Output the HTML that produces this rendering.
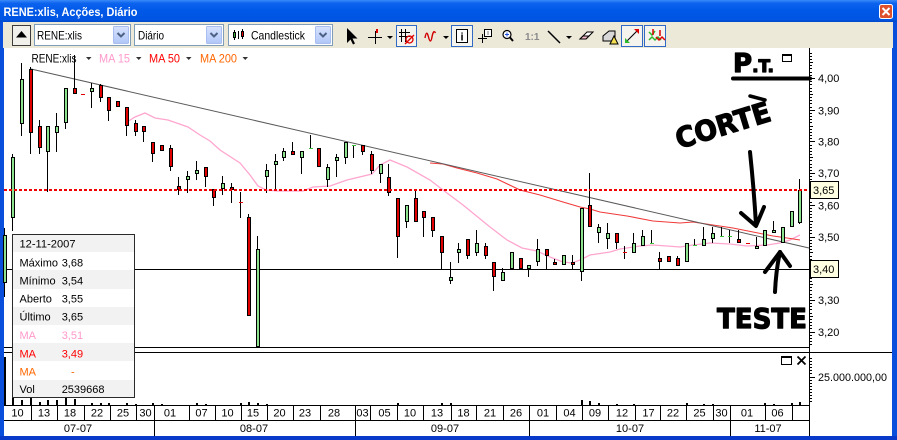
<!DOCTYPE html>
<html><head><meta charset="utf-8"><style>
html,body{margin:0;padding:0;background:#fff;overflow:hidden}
svg{display:block}
text{font-family:"Liberation Sans",Arial,sans-serif}
.hw{font-family:"DejaVu Sans","Liberation Sans",sans-serif;font-weight:bold;fill:#000;stroke:#000;stroke-width:1.2;stroke-linejoin:round}
</style></head><body>
<svg width="897" height="440" viewBox="0 0 897 440" xmlns="http://www.w3.org/2000/svg">
<defs>
<linearGradient id="tb" x1="0" y1="0" x2="0" y2="1">
<stop offset="0" stop-color="#3A8AF8"/><stop offset="0.15" stop-color="#0C63EE"/><stop offset="0.5" stop-color="#0058E8"/><stop offset="0.9" stop-color="#0055E2"/><stop offset="1" stop-color="#0046C6"/>
</linearGradient>
<linearGradient id="btn" x1="0" y1="0" x2="0" y2="1"><stop offset="0" stop-color="#D6E2FD"/><stop offset="1" stop-color="#B2C7F8"/></linearGradient>
</defs>
<!-- window frame -->
<rect width="897" height="440" fill="#0A4FDB"/>
<rect width="897" height="22" fill="url(#tb)"/>
<rect x="0" y="436" width="897" height="4" fill="#0839C8"/>
<rect x="3" y="22" width="890" height="26" fill="#ECE9D8"/>
<rect x="4" y="48" width="888" height="388" fill="#fff"/>
<text x="3.5" y="16" font-size="12" font-weight="bold" fill="#fff" textLength="134" lengthAdjust="spacingAndGlyphs">RENE:xlis, Acções, Diário</text>
<rect x="879.5" y="4.5" width="13" height="14" rx="2" fill="#DE4F2C" stroke="#fff"/>
<path d="M882.5 8L889.5 15M889.5 8L882.5 15" stroke="#fff" stroke-width="2"/>

<!-- toolbar -->
<rect x="12.5" y="25.5" width="18" height="20" fill="#F1F0EA" stroke="#3C3C3C"/>
<polygon points="16,37.5 27,37.5 21.5,31" fill="#000"/>
<rect x="34.5" y="24.5" width="96" height="21" fill="#fff" stroke="#7F9DB9"/>
<rect x="113.5" y="26.5" width="15" height="17" rx="1" fill="url(#btn)" stroke="#A9BEF0"/>
<path d="M117.5 33l3.5 3.5 3.5-3.5" stroke="#4D6185" stroke-width="2" fill="none"/>
<text x="37" y="39.5" font-size="12" textLength="45" lengthAdjust="spacingAndGlyphs">RENE:xlis</text>
<rect x="134.5" y="24.5" width="89" height="21" fill="#fff" stroke="#7F9DB9"/>
<rect x="206.5" y="26.5" width="15" height="17" rx="1" fill="url(#btn)" stroke="#A9BEF0"/>
<path d="M210.5 33l3.5 3.5 3.5-3.5" stroke="#4D6185" stroke-width="2" fill="none"/>
<text x="138" y="39.5" font-size="12" textLength="26" lengthAdjust="spacingAndGlyphs">Diário</text>
<rect x="228.5" y="24.5" width="104" height="21" fill="#fff" stroke="#7F9DB9"/>
<rect x="315.5" y="26.5" width="15" height="17" rx="1" fill="url(#btn)" stroke="#A9BEF0"/>
<path d="M319.5 33l3.5 3.5 3.5-3.5" stroke="#4D6185" stroke-width="2" fill="none"/>
<path d="M234.5 30V40M238.5 31V39M242.5 29V39" stroke="#000"/>
<rect x="233.5" y="32.5" width="2" height="5" fill="#3BB33B" stroke="#000"/>
<rect x="241.5" y="31.5" width="2" height="5" fill="#E00000" stroke="#000"/>
<text x="251" y="39.5" font-size="12" textLength="54" lengthAdjust="spacingAndGlyphs">Candlestick</text>
<polygon points="347,28 347,43 350.5,39.5 353,44.5 355,43.5 352.5,38.5 357.5,38.5" fill="#000"/>
<path d="M375.5 31V44M368 37.5H382" stroke="#000"/>
<rect x="376" y="29" width="2" height="4" fill="#E00000"/>
<polygon points="387,36 393,36 390,39" fill="#000"/>
<rect x="396.5" y="25.5" width="20" height="21" fill="#F4F3EE" stroke="#316AC5"/>
<path d="M401.5 29V42M405.5 29V42M399 32.5H410M399 36.5H410" stroke="#000"/>
<circle cx="409.5" cy="39.5" r="3.5" fill="none" stroke="#E00000" stroke-width="1.3"/>
<path d="M405 44L414 35" stroke="#E00000" stroke-width="1.3"/>
<path d="M425 38q1.5-9 3.5-1t3.5 0 3.5-4" stroke="#D00000" stroke-width="1.4" fill="none"/>
<polygon points="443,36 449,36 446,39" fill="#000"/>
<rect x="451.5" y="25.5" width="21" height="21" fill="#F4F3EE" stroke="#316AC5"/>
<rect x="456.5" y="29.5" width="11" height="13" fill="#fff" stroke="#000"/>
<text x="462" y="40.5" font-size="11" font-weight="bold" text-anchor="middle">i</text>
<path d="M478 38.5H487M482.5 34V43" stroke="#000"/>
<rect x="484.5" y="29.5" width="7" height="7" fill="#fff" stroke="#000"/>
<path d="M488 31.5v1M488 33.5v1" stroke="#000"/>
<circle cx="507" cy="34.5" r="4" fill="#fff" stroke="#000" stroke-width="1.2"/>
<path d="M505 34.5h4M507 32.5v4" stroke="#2050E0"/>
<path d="M510 37.5l3 3.5" stroke="#000" stroke-width="2"/>
<text x="525" y="40" font-size="10" font-weight="bold" fill="#8A8A8A">1:1</text>
<path d="M548 31L560 43" stroke="#000" stroke-width="1.5"/>
<polygon points="566,36 572,36 569,39" fill="#000"/>
<polygon points="580,39 587,32 593,32 586,39" fill="#fff" stroke="#000"/>
<polygon points="580,39 583,36 589,36 586,39" fill="#F4B8C8" stroke="#000"/>
<path d="M603 41V36L609 31H615V41Z" fill="#D8D8D8" stroke="#000"/>
<polygon points="610,44 614,36 618,44" fill="#F6E050" stroke="#000"/>
<rect x="621.5" y="25.5" width="21" height="21" fill="#F4F3EE" stroke="#316AC5"/>
<path d="M627 41L638 30" stroke="#000"/>
<polygon points="634,29 639,29 639,34" fill="#E00000"/>
<polygon points="625,38 625,43 630,43" fill="#2DB82D"/>
<rect x="644.5" y="25.5" width="21" height="21" fill="#F4F3EE" stroke="#316AC5"/>
<path d="M649 32l3 3 3-4M649 40l3-3 3 3 3-3 3 3" stroke="#2DB82D" stroke-width="1.5" fill="none"/>
<path d="M656 37l3 3 3-3 3 3" stroke="#E00000" stroke-width="1.5" fill="none"/>
<path d="M653 29v6M660 30v6" stroke="#E00000" stroke-width="1.5"/>

<!-- chart lines -->
<path d="M4 269.5H809" stroke="#000"/>
<path d="M4 347.5H809M4 352.5H892M4 405.5H809M4 420.5H809M809.5 48V436" stroke="#000"/>
<polyline points="127,122 135,117 145,113 155,118 168,120 188,127 200,135 210,141 220,150 240,163 250,175 258,186 266,190 277,191 303,191 313,187 330,186 347,180 372,174 380,165 390,160 407,167 430,180 443,190 463,205 490,227 507,240 522,248 537,251 550,257 563,262 572,263 580,260 590,255 610,252 620,249 640,246 653,245 667,246 680,247 693,245 710,243 730,244 747,246 767,245 780,243 790,240 800,235" fill="none" stroke="#FFA6CF" stroke-width="1.3"/>
<polyline points="430,163 443,164 457,168 477,173 497,179 520,190 540,195 563,202 580,207 590,209 600,212 627,216 653,221 680,223 693,222 713,225 733,228 753,232 773,236 787,238 800,240" fill="none" stroke="#F03A3A" stroke-width="1.1"/>
<path d="M31 69L809 248" stroke="#5A5A5A" stroke-width="1"/>

<!-- wicks -->
<path stroke="#000" fill="none" d="M4.5 228V297M12.5 154V231M21.5 63V136M30.5 67V154M39.5 120V154M47.5 126V192M56.5 113V152M65.5 88V129M74.5 55V94M91.5 83V108M100.5 84V102M108.5 97V121M126.5 107V136M135.5 120V136M143.5 126V142M152.5 142V162M170.5 145V171M178.5 177V195M187.5 171V193M196.5 161V180M205.5 167V187M213.5 189V206M222.5 176V195M231.5 183V203M240.5 192V218M248.5 214V316M257.5 236V347M266.5 164V193M275.5 154V189M283.5 148V161M292.5 142V154M301.5 151V174M310.5 135V148M327.5 164V187M336.5 154V177M345.5 142V164M353.5 145V158M362.5 145V155M371.5 151V174M380.5 164V183M388.5 164V196M397.5 198V258M406.5 205V228M415.5 189V222M423.5 211V237M432.5 217V237M441.5 236V269M450.5 262V284M458.5 243V263M467.5 239V259M476.5 230V256M485.5 243V259M493.5 262V291M502.5 268V281M528.5 265V277M537.5 239V266M546.5 249V269M554.5 259V265M572.5 255V269M581.5 208V281M589.5 173V227M598.5 224V243M607.5 223V249M616.5 233V249M624.5 246V259M633.5 233V253M642.5 230V246M651.5 230V243M659.5 252V269M677.5 256V266M694.5 239V246M703.5 227V246M712.5 227V243M721.5 227V236M729.5 230V243M738.5 230V243M756.5 237V249M773.5 221V233M799.5 179V224"/>

<!-- green bodies -->
<g fill="#8DE38D" stroke="#000">
<rect x="3.5" y="235.5" width="3" height="47"/>
<rect x="11.5" y="157.5" width="3" height="60"/>
<rect x="20.5" y="79.5" width="3" height="44"/>
<rect x="46.5" y="126.5" width="3" height="25"/>
<rect x="55.5" y="126.5" width="3" height="6"/>
<rect x="64.5" y="88.5" width="3" height="34"/>
<rect x="90.5" y="88.5" width="3" height="3"/>
<rect x="186.5" y="176.5" width="3" height="3"/>
<rect x="195.5" y="170.5" width="3" height="3"/>
<rect x="221.5" y="183.5" width="3" height="5"/>
<rect x="256.5" y="249.5" width="3" height="97"/>
<rect x="265.5" y="170.5" width="3" height="6"/>
<rect x="274.5" y="161.5" width="3" height="3"/>
<rect x="282.5" y="151.5" width="3" height="6"/>
<rect x="300.5" y="151.5" width="3" height="6"/>
<rect x="326.5" y="167.5" width="3" height="12"/>
<rect x="335.5" y="157.5" width="3" height="3"/>
<rect x="344.5" y="142.5" width="3" height="15"/>
<rect x="379.5" y="164.5" width="3" height="9"/>
<rect x="405.5" y="205.5" width="3" height="16"/>
<rect x="449.5" y="277.5" width="3" height="3"/>
<rect x="457.5" y="249.5" width="3" height="3"/>
<rect x="475.5" y="243.5" width="3" height="9"/>
<rect x="501.5" y="272.5" width="3" height="8"/>
<rect x="510.5" y="252.5" width="3" height="16"/>
<rect x="527.5" y="265.5" width="3" height="3"/>
<rect x="536.5" y="249.5" width="3" height="12"/>
<rect x="562.5" y="255.5" width="3" height="9"/>
<rect x="580.5" y="208.5" width="3" height="63"/>
<rect x="597.5" y="227.5" width="3" height="5"/>
<rect x="606.5" y="233.5" width="3" height="5"/>
<rect x="632.5" y="243.5" width="3" height="9"/>
<rect x="641.5" y="236.5" width="3" height="9"/>
<rect x="685.5" y="243.5" width="3" height="18"/>
<rect x="702.5" y="239.5" width="3" height="6"/>
<rect x="711.5" y="233.5" width="3" height="5"/>
<rect x="755.5" y="246.5" width="3" height="2"/>
<rect x="763.5" y="230.5" width="3" height="15"/>
<rect x="772.5" y="230.5" width="3" height="2"/>
<rect x="781.5" y="227.5" width="3" height="15"/>
<rect x="790.5" y="211.5" width="3" height="15"/>
<rect x="798.5" y="190.5" width="3" height="32"/>
</g>
<!-- red bodies -->
<g fill="#E00000" stroke="#000">
<rect x="29.5" y="69.5" width="3" height="63"/>
<rect x="38.5" y="126.5" width="3" height="21"/>
<rect x="73.5" y="88.5" width="3" height="5"/>
<rect x="99.5" y="85.5" width="3" height="12"/>
<rect x="107.5" y="97.5" width="3" height="13"/>
<rect x="116.5" y="101.5" width="3" height="5"/>
<rect x="125.5" y="107.5" width="3" height="18"/>
<rect x="134.5" y="123.5" width="3" height="8"/>
<rect x="142.5" y="126.5" width="3" height="5"/>
<rect x="151.5" y="142.5" width="3" height="11"/>
<rect x="160.5" y="145.5" width="3" height="5"/>
<rect x="169.5" y="148.5" width="3" height="18"/>
<rect x="177.5" y="186.5" width="3" height="3"/>
<rect x="204.5" y="167.5" width="3" height="9"/>
<rect x="212.5" y="189.5" width="3" height="8"/>
<rect x="230.5" y="187.5" width="3" height="2"/>
<rect x="247.5" y="217.5" width="3" height="98"/>
<rect x="291.5" y="151.5" width="3" height="3"/>
<rect x="317.5" y="148.5" width="3" height="18"/>
<rect x="361.5" y="145.5" width="3" height="6"/>
<rect x="370.5" y="154.5" width="3" height="16"/>
<rect x="387.5" y="177.5" width="3" height="15"/>
<rect x="396.5" y="198.5" width="3" height="38"/>
<rect x="414.5" y="198.5" width="3" height="23"/>
<rect x="422.5" y="211.5" width="3" height="6"/>
<rect x="431.5" y="217.5" width="3" height="13"/>
<rect x="440.5" y="236.5" width="3" height="16"/>
<rect x="466.5" y="239.5" width="3" height="16"/>
<rect x="484.5" y="246.5" width="3" height="9"/>
<rect x="492.5" y="262.5" width="3" height="14"/>
<rect x="519.5" y="258.5" width="3" height="10"/>
<rect x="545.5" y="249.5" width="3" height="6"/>
<rect x="553.5" y="262.5" width="3" height="2"/>
<rect x="571.5" y="262.5" width="3" height="2"/>
<rect x="588.5" y="205.5" width="3" height="21"/>
<rect x="615.5" y="233.5" width="3" height="9"/>
<rect x="658.5" y="258.5" width="3" height="3"/>
<rect x="667.5" y="256.5" width="3" height="5"/>
<rect x="676.5" y="258.5" width="3" height="7"/>
<rect x="737.5" y="239.5" width="3" height="3"/>
</g>
<!-- doji dashes -->
<g fill="#E00000"><rect x="81" y="94" width="4" height="1"/><rect x="239" y="202" width="4" height="1"/><rect x="623" y="252" width="4" height="1"/><rect x="746" y="243" width="4" height="1"/></g>
<g fill="#3CC23C"><rect x="309" y="148" width="4" height="1"/><rect x="352" y="145" width="4" height="1"/><rect x="650" y="243" width="4" height="1"/><rect x="693" y="245" width="4" height="1"/><rect x="720" y="236" width="4" height="1"/><rect x="728" y="236" width="4" height="1"/></g>

<!-- red dotted 3.65 -->
<path d="M4 190H809" stroke="#F00000" stroke-width="2" stroke-dasharray="3 2"/>

<!-- volume bars -->
<g fill="#000">
<rect x="4" y="357" width="2" height="48"/>
<rect x="12" y="398" width="2" height="7"/><rect x="21" y="400" width="2" height="5"/><rect x="30" y="398" width="2" height="7"/><rect x="39" y="402" width="2" height="3"/><rect x="47" y="400" width="2" height="5"/><rect x="56" y="400" width="2" height="5"/><rect x="65" y="398" width="2" height="7"/><rect x="74" y="399" width="2" height="6"/>
<rect x="91" y="403" width="2" height="2"/><rect x="100" y="403" width="2" height="2"/><rect x="108" y="403" width="2" height="2"/><rect x="126" y="403" width="2" height="2"/><rect x="135" y="404" width="2" height="1"/><rect x="152" y="403" width="2" height="2"/><rect x="161" y="404" width="2" height="1"/><rect x="196" y="403" width="2" height="2"/><rect x="205" y="404" width="2" height="1"/><rect x="240" y="403" width="2" height="2"/><rect x="248" y="402" width="2" height="3"/><rect x="257" y="403" width="2" height="2"/><rect x="266" y="404" width="2" height="1"/>
<rect x="397" y="403" width="2" height="2"/><rect x="441" y="403" width="2" height="2"/><rect x="450" y="403" width="2" height="2"/><rect x="581" y="400" width="2" height="5"/><rect x="589" y="401" width="2" height="4"/><rect x="598" y="403" width="2" height="2"/><rect x="616" y="404" width="2" height="1"/><rect x="633" y="404" width="2" height="1"/><rect x="686" y="403" width="2" height="2"/><rect x="703" y="404" width="2" height="1"/><rect x="712" y="404" width="2" height="1"/><rect x="764" y="403" width="2" height="2"/><rect x="773" y="404" width="2" height="1"/><rect x="791" y="403" width="2" height="2"/><rect x="799" y="402" width="2" height="3"/>
</g>

<!-- right axis ticks -->
<path stroke="#000" d="M810 53.5h2M810 56.5h2M810 59.5h2M810 62.5h3M810 65.5h2M810 68.5h2M810 72.5h2M810 75.5h2M810 78.5h5M810 81.5h2M810 84.5h2M810 88.5h2M810 91.5h2M810 94.5h3M810 97.5h2M810 100.5h2M810 103.5h2M810 107.5h2M810 110.5h5M810 113.5h2M810 116.5h2M810 119.5h2M810 122.5h2M810 126.5h3M810 129.5h2M810 132.5h2M810 135.5h2M810 138.5h2M810 141.5h5M810 145.5h2M810 148.5h2M810 151.5h2M810 154.5h2M810 157.5h3M810 160.5h2M810 164.5h2M810 167.5h2M810 170.5h2M810 173.5h5M810 176.5h2M810 179.5h2M810 183.5h2M810 186.5h2M810 189.5h3M810 192.5h2M810 195.5h2M810 198.5h2M810 202.5h2M810 205.5h5M810 208.5h2M810 211.5h2M810 214.5h2M810 217.5h2M810 221.5h3M810 224.5h2M810 227.5h2M810 230.5h2M810 233.5h2M810 237.5h5M810 240.5h2M810 243.5h2M810 246.5h2M810 249.5h2M810 252.5h3M810 256.5h2M810 259.5h2M810 262.5h2M810 265.5h2M810 268.5h5M810 271.5h2M810 275.5h2M810 278.5h2M810 281.5h2M810 284.5h3M810 287.5h2M810 290.5h2M810 294.5h2M810 297.5h2M810 300.5h5M810 303.5h2M810 306.5h2M810 309.5h2M810 313.5h2M810 316.5h3M810 319.5h2M810 322.5h2M810 325.5h2M810 328.5h2M810 332.5h5M810 335.5h2M810 338.5h2M810 341.5h2M810 344.5h2M810 358.5h2M810 361.5h2M810 364.5h2M810 367.5h2M810 370.5h2M810 373.5h2M810 377.5h5M810 380.5h2M810 383.5h2M810 386.5h2M810 389.5h2M810 392.5h2M810 395.5h2M810 398.5h2M810 401.5h2"/>
<g font-size="11" fill="#000">
<text x="818" y="82">4,00</text><text x="818" y="114.5">3,90</text><text x="818" y="145.5">3,80</text><text x="818" y="177">3,70</text><text x="818" y="209.5">3,60</text><text x="818" y="241">3,50</text><text x="818" y="304">3,30</text><text x="818" y="336">3,20</text>
<text x="818" y="381" textLength="69" lengthAdjust="spacingAndGlyphs">25.000.000,00</text>
</g>
<rect x="810.5" y="181.5" width="28" height="17" fill="#FFFFE1" stroke="#000"/>
<text x="813" y="194" font-size="11">3,65</text>
<rect x="810.5" y="260.5" width="28" height="17" fill="#FFFFE1" stroke="#000"/>
<text x="813" y="273" font-size="11">3,40</text>

<!-- panel buttons -->
<rect x="782.5" y="54.5" width="9" height="7" fill="#fff" stroke="#000"/><path d="M782 55.5h10" stroke="#000"/>
<rect x="781.5" y="356.5" width="10" height="8" fill="#fff" stroke="#000"/><path d="M781 357.5h11" stroke="#000"/>
<path d="M797.5 356.5l8 8M805.5 356.5l-8 8" stroke="#000" stroke-width="1.8"/>

<!-- date axis -->
<path stroke="#000" d="M31.5 405V420M57.5 405V420M84.5 405V420M110.5 405V420M136.5 405V420M154.5 405V436M189.5 405V420M215.5 405V420M241.5 405V420M267.5 405V420M293.5 405V420M320.5 405V420M355.5 405V436M370.5 405V420M397.5 405V420M423.5 405V420M451.5 405V420M476.5 405V420M503.5 405V420M529.5 405V436M556.5 405V420M582.5 405V420M608.5 405V420M635.5 405V420M660.5 405V420M686.5 405V420M713.5 405V420M730.5 405V436M765.5 405V420M792.5 405V420"/>
<g font-size="11" text-anchor="middle" fill="#000">
<text x="17.5" y="416.5">10</text><text x="44" y="416.5">13</text><text x="70" y="416.5">18</text><text x="97" y="416.5">22</text><text x="123" y="416.5">25</text><text x="145.5" y="416.5">30</text><text x="170" y="416.5">01</text><text x="201.5" y="416.5">07</text><text x="227.5" y="416.5">10</text><text x="253" y="416.5">15</text><text x="279.5" y="416.5">20</text><text x="305" y="416.5">23</text><text x="334" y="416.5">28</text><text x="362.5" y="416.5">03</text><text x="384.5" y="416.5">05</text><text x="410" y="416.5">10</text><text x="437" y="416.5">13</text><text x="463.5" y="416.5">18</text><text x="490" y="416.5">21</text><text x="516" y="416.5">26</text><text x="543" y="416.5">01</text><text x="569.5" y="416.5">04</text><text x="595" y="416.5">09</text><text x="622" y="416.5">12</text><text x="648.5" y="416.5">17</text><text x="673" y="416.5">22</text><text x="699.5" y="416.5">25</text><text x="721.5" y="416.5">30</text><text x="747" y="416.5">01</text><text x="777.5" y="416.5">06</text>
<text x="78" y="432">07-07</text><text x="254" y="432">08-07</text><text x="445" y="432">09-07</text><text x="630" y="432">10-07</text><text x="768" y="432">11-07</text>
</g>

<!-- legend -->
<text x="31.5" y="62.5" font-size="12" textLength="45" lengthAdjust="spacingAndGlyphs">RENE:xlis</text>
<polygon points="86,57 91.5,57 88.75,60" fill="#333"/>
<text x="99" y="62.5" font-size="12" fill="#FF99CC" textLength="31" lengthAdjust="spacingAndGlyphs">MA 15</text>
<polygon points="136,57 141.5,57 138.75,60" fill="#333"/>
<text x="149" y="62.5" font-size="12" fill="#FF0000" textLength="31" lengthAdjust="spacingAndGlyphs">MA 50</text>
<polygon points="186,57 191.5,57 188.75,60" fill="#333"/>
<text x="200" y="62.5" font-size="12" fill="#FF6600" textLength="37" lengthAdjust="spacingAndGlyphs">MA 200</text>
<polygon points="242.5,57 248,57 245.25,60" fill="#333"/>

<!-- info box -->
<rect x="12" y="234" width="123" height="164" fill="#fff"/>
<g fill="#F2F2F2"><rect x="12" y="234" width="123" height="18"/><rect x="12" y="270" width="123" height="19"/><rect x="12" y="307" width="123" height="18"/><rect x="12" y="343" width="123" height="18"/><rect x="12" y="380" width="123" height="18"/></g>
<rect x="12.5" y="234.5" width="122" height="163" fill="none" stroke="#2A2A2A"/>
<g font-size="11" fill="#000">
<text x="19.5" y="247.5" textLength="56" lengthAdjust="spacingAndGlyphs">12-11-2007</text>
<text x="19.5" y="266.5">Máximo</text><text x="61.7" y="266.5">3,68</text>
<text x="19.5" y="284.5">Mínimo</text><text x="61.7" y="284.5">3,54</text>
<text x="19.5" y="302.5">Aberto</text><text x="61.7" y="302.5">3,55</text>
<text x="19.5" y="320.5">Último</text><text x="61.7" y="320.5">3,65</text>
<text x="19.5" y="339" fill="#FF99CC">MA</text><text x="61.7" y="339" fill="#FF99CC">3,51</text>
<text x="19.5" y="357.5" fill="#FF0000">MA</text><text x="61.7" y="357.5" fill="#FF0000">3,49</text>
<text x="19.5" y="375.5" fill="#FF6600">MA</text><text x="71" y="375.5" fill="#FF6600">-</text>
<text x="19.5" y="393">Vol</text><text x="61.7" y="393">2539668</text>
</g>

<!-- handwritten annotations -->
<text class="hw" x="733" y="72"><tspan font-size="26">P</tspan><tspan font-size="17">.T.</tspan></text>
<path d="M733 78.5H810" stroke="#000" stroke-width="4" stroke-linecap="round"/>
<text class="hw" transform="translate(679,149) rotate(-17)" x="0" y="0" font-size="28" textLength="98" lengthAdjust="spacingAndGlyphs">CORTE</text>
<path d="M750 96L765 100" stroke="#000" stroke-width="3.5" stroke-linecap="round"/>
<path d="M750 152Q754 190 756 225" stroke="#000" stroke-width="4" fill="none" stroke-linecap="round"/>
<path d="M741 213L756 226L764 207" stroke="#000" stroke-width="4" fill="none" stroke-linecap="round" stroke-linejoin="round"/>
<path d="M775 292Q776 270 780 252" stroke="#000" stroke-width="4" fill="none" stroke-linecap="round"/>
<path d="M765 272L780 252L790 266" stroke="#000" stroke-width="4" fill="none" stroke-linecap="round" stroke-linejoin="round"/>
<text class="hw" x="717" y="328" font-size="28" textLength="90" lengthAdjust="spacingAndGlyphs">TESTE</text>
</svg>
</body></html>
